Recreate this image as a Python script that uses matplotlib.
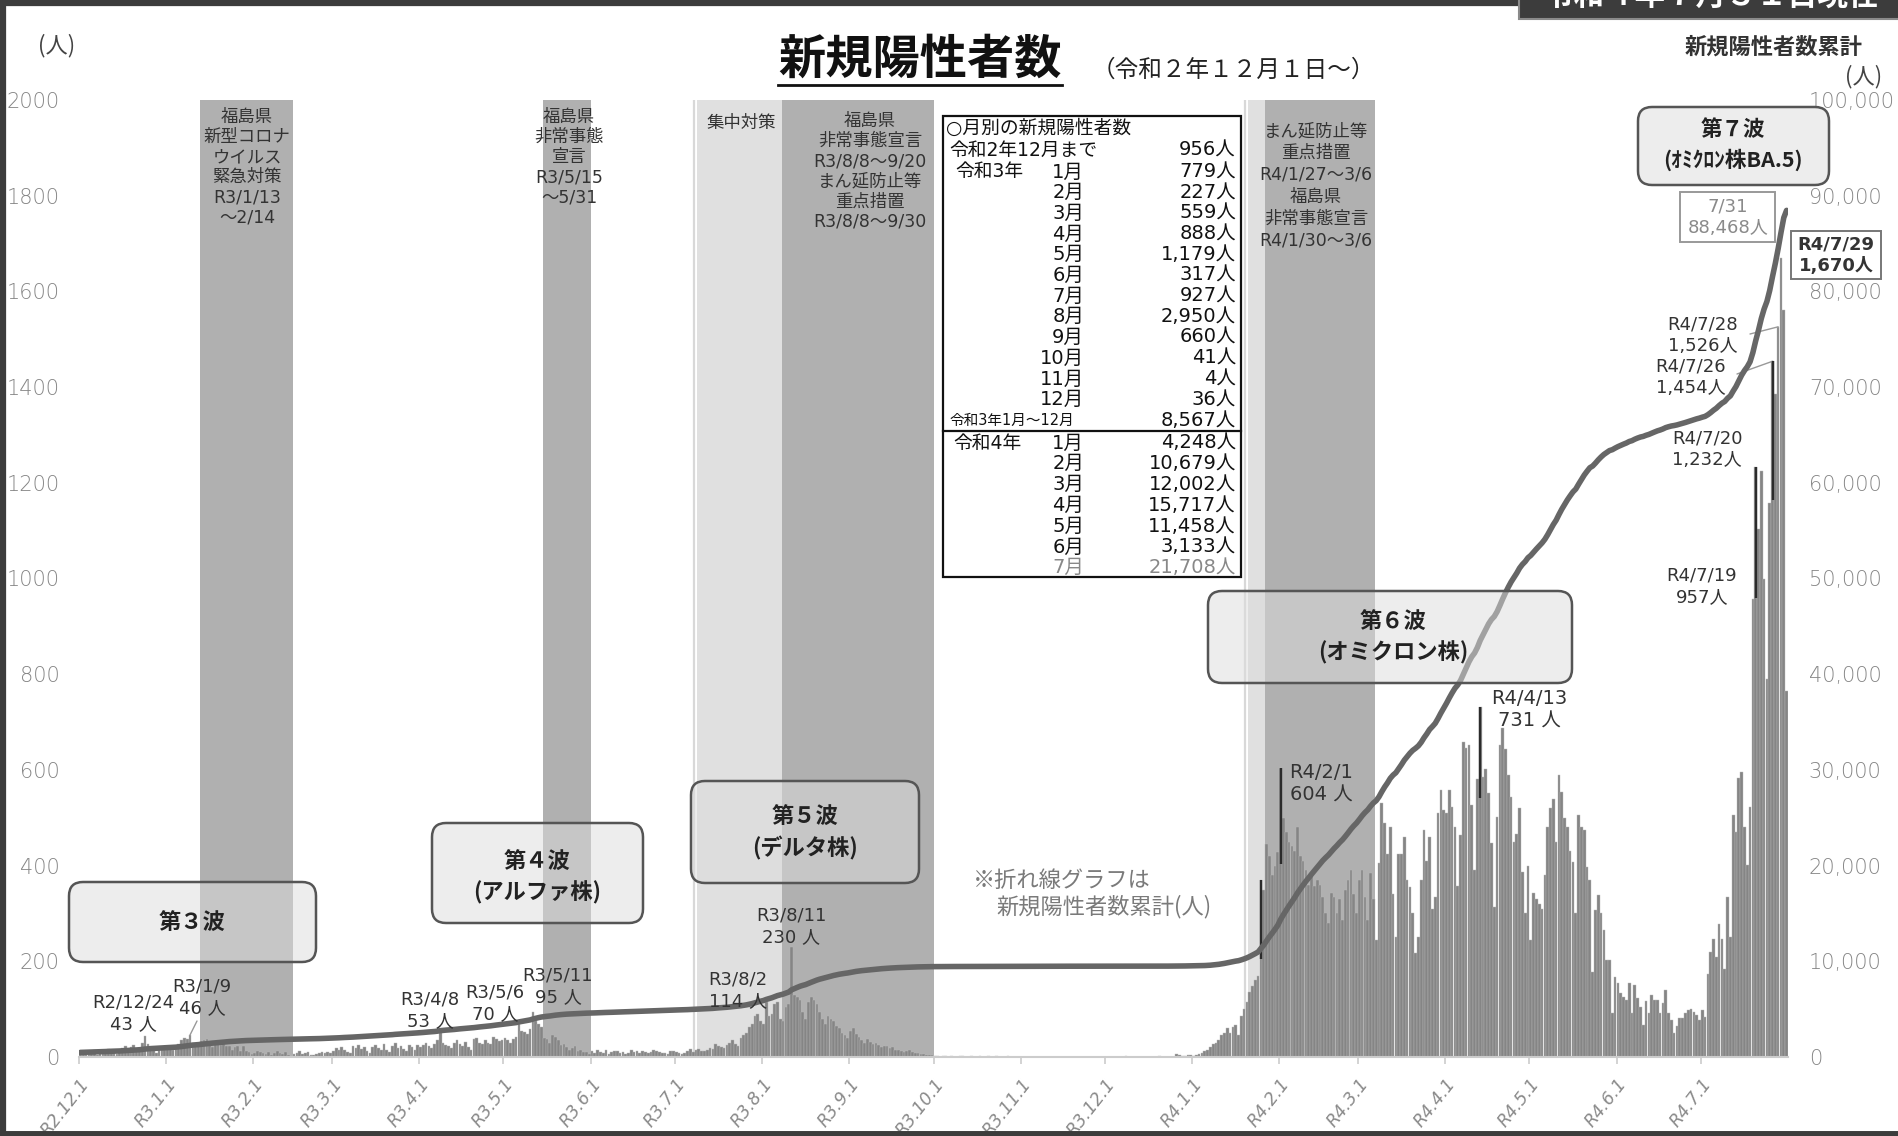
import datetime as dt
import numpy as np
import matplotlib
matplotlib.use("Agg")
import matplotlib.pyplot as plt
from matplotlib.patches import FancyBboxPatch, Rectangle
from matplotlib.lines import Line2D
from matplotlib.transforms import IdentityTransform

plt.rcParams['font.family'] = ['Noto Sans CJK JP', 'DejaVu Sans']
LAT = ['DejaVu Sans', 'Noto Sans CJK JP']

# ---------------- data: daily new positives ----------------
dec_2020 = [6, 9, 12, 8, 10, 14, 5, 11, 13, 9, 16, 12, 8, 7, 15, 18, 22, 14, 20, 25, 12, 17, 30, 43, 28, 19, 16, 9, 14, 18, 21]
jan_2021 = [18, 22, 15, 20, 28, 35, 40, 38, 46, 30, 22, 25, 33, 35, 38, 30, 20, 28, 32, 26, 30, 24, 22, 15, 20, 24, 13, 22, 12, 10, 6]
feb_2021 = [8, 12, 10, 9, 7, 11, 5, 9, 12, 8, 6, 10, 4, 3, 7, 9, 12, 6, 8, 10, 5, 4, 6, 9, 11, 8, 10, 8]
mar_2021 = [12, 18, 15, 20, 14, 10, 9, 22, 18, 25, 16, 20, 12, 8, 21, 25, 19, 15, 28, 14, 10, 24, 30, 18, 22, 16, 12, 26, 20, 15, 25]
apr_2021 = [20, 25, 30, 22, 18, 28, 35, 53, 30, 26, 22, 18, 30, 35, 28, 24, 32, 20, 15, 38, 40, 30, 28, 35, 30, 27, 42, 38, 33, 36]
may_2021 = [40, 35, 30, 38, 42, 70, 55, 52, 48, 58, 95, 75, 68, 62, 40, 38, 30, 45, 42, 35, 25, 28, 20, 15, 18, 22, 12, 14, 10, 10, 7]
jun_2021 = [12, 8, 14, 10, 9, 15, 6, 11, 13, 12, 8, 10, 7, 9, 14, 11, 12, 8, 13, 10, 9, 11, 15, 12, 10, 8, 9, 7, 12, 12]
jul_2021 = [10, 8, 7, 9, 12, 17, 10, 14, 17, 12, 12, 14, 19, 16, 28, 24, 20, 18, 26, 30, 35, 28, 24, 40, 45, 50, 62, 70, 85, 90, 75]
aug_2021 = [70, 114, 85, 90, 110, 115, 80, 75, 105, 110, 230, 130, 125, 120, 95, 80, 115, 125, 120, 111, 95, 80, 70, 85, 80, 75, 65, 60, 50, 45, 40]
sep_2021 = [55, 60, 49, 42, 35, 30, 38, 32, 28, 30, 25, 20, 24, 22, 18, 20, 15, 14, 12, 10, 12, 15, 10, 8, 9, 7, 6, 5, 4, 5]
oct_2021 = [3, 2, 1, 2, 3, 1, 2, 0, 1, 2, 3, 1, 0, 2, 1, 1, 3, 0, 1, 2, 1, 0, 2, 1, 1, 0, 2, 1, 1, 0, 1]
nov_2021 = [0, 0, 1, 0, 0, 0, 0, 0, 0, 1, 0, 0, 0, 0, 0, 0, 0, 1, 0, 0, 0, 0, 0, 0, 1, 0, 0, 0, 0, 0]
dec_2021 = [0, 1, 0, 0, 1, 0, 0, 2, 0, 0, 1, 0, 0, 1, 0, 0, 0, 1, 0, 2, 1, 0, 0, 1, 0, 6, 4, 3, 2, 5, 5]
jan_2022 = [3, 4, 6, 9, 12, 15, 20, 28, 30, 35, 45, 50, 60, 50, 62, 67, 45, 85, 100, 115, 135, 148, 160, 170, 370, 350, 446, 420, 380, 400, 428]
feb_2022 = [604, 500, 470, 450, 440, 430, 480, 420, 410, 390, 360, 380, 358, 370, 360, 335, 300, 279, 342, 335, 300, 330, 286, 350, 370, 390, 340, 300]
mar_2022 = [370, 390, 335, 286, 384, 330, 245, 405, 530, 488, 425, 480, 340, 250, 425, 425, 460, 370, 355, 300, 217, 251, 370, 474, 410, 460, 310, 334, 509, 558, 516]
apr_2022 = [509, 558, 523, 480, 358, 463, 659, 645, 652, 527, 391, 580, 731, 586, 602, 551, 447, 314, 502, 652, 687, 643, 589, 544, 450, 467, 520, 387, 300, 400]
may_2022 = [245, 342, 330, 320, 310, 380, 480, 520, 540, 450, 589, 554, 500, 480, 430, 408, 300, 505, 480, 474, 397, 370, 178, 307, 339, 300, 265, 203, 203, 91, 168]
jun_2022 = [154, 133, 126, 119, 154, 91, 150, 123, 105, 67, 116, 91, 130, 119, 119, 91, 112, 140, 91, 77, 50, 64, 81, 81, 91, 98, 100, 95, 88, 77]
jul_2022 = [98, 84, 174, 220, 246, 210, 278, 246, 184, 335, 250, 506, 470, 584, 595, 480, 402, 522, 957, 1232, 1104, 1224, 1000, 789, 1157, 1454, 1385, 1526, 1670, 1562, 764]

cases_before_dec_2020 = 475   # cumulative before R2/12/1

tick_labels = ['R2.12.1', 'R3.1.1', 'R3.2.1', 'R3.3.1', 'R3.4.1', 'R3.5.1', 'R3.6.1',
               'R3.7.1', 'R3.8.1', 'R3.9.1', 'R3.10.1', 'R3.11.1', 'R3.12.1', 'R4.1.1',
               'R4.2.1', 'R4.3.1', 'R4.4.1', 'R4.5.1', 'R4.6.1', 'R4.7.1']

table_header = '○月別の新規陽性者数'
r2_label = '令和2年12月まで'
r2_value = 956
r3_months = ['1月', '2月', '3月', '4月', '5月', '6月', '7月', '8月', '9月', '10月', '11月', '12月']
r3_values = [779, 227, 559, 888, 1179, 317, 927, 2950, 660, 41, 4, 36]
r4_months = ['1月', '2月', '3月', '4月', '5月', '6月', '7月']
r4_values = [4248, 10679, 12002, 15717, 11458, 3133, 21708]

# ---------------- derived ----------------
months = [dec_2020, jan_2021, feb_2021, mar_2021, apr_2021, may_2021, jun_2021, jul_2021,
          aug_2021, sep_2021, oct_2021, nov_2021, dec_2021, jan_2022, feb_2022, mar_2022,
          apr_2022, may_2022, jun_2022, jul_2022]
daily = np.concatenate([np.array(m, dtype=float) for m in months])
cumulative = cases_before_dec_2020 + np.cumsum(daily)
x = np.arange(len(daily))
START = dt.date(2020, 12, 1)


def di(y, m, d):
    return (dt.date(y, m, d) - START).days


month_starts = np.cumsum([0] + [len(m) for m in months[:-1]])

# ---------------- figure ----------------
W, H = 1898, 1136
fig = plt.figure(figsize=(W / 100, H / 100), dpi=100)
fig.patch.set_facecolor('white')
PX = IdentityTransform()


def T(px, py, s, **kw):
    return fig.text(px / W, 1 - py / H, s, **kw)


ax = fig.add_axes([79 / W, 1 - 1057 / H, 1709 / W, 957 / H])
ax2 = ax.twinx()

DARK = '#b0b0b0'
LIGHT = '#e0e0e0'
spans = [
    ((2021, 1, 13), (2021, 2, 14), DARK),
    ((2021, 5, 15), (2021, 5, 31), DARK),
    ((2021, 7, 9), (2021, 8, 7), LIGHT),
    ((2021, 8, 8), (2021, 9, 30), DARK),
    ((2022, 1, 21), (2022, 1, 26), LIGHT),
    ((2022, 1, 27), (2022, 3, 6), DARK),
]
for a, b, c in spans:
    ax.axvspan(di(*a) - 0.5, di(*b) + 0.5, color=c, lw=0, zorder=0)
ax.axvline(di(2021, 7, 7) + 0.2, color='#d8d8d8', lw=1.6, zorder=0)
ax.axvline(di(2022, 1, 19) + 0.3, color='#d8d8d8', lw=1.6, zorder=0)

ax.bar(x, daily, width=0.95, color='#858585', edgecolor='#b8b8b8', linewidth=0.3, zorder=2)

# highlighted bar tops
for (y_, m_, d_), drop in [((2022, 1, 25), 165), ((2022, 2, 1), 200), ((2022, 4, 13), 190),
                           ((2022, 7, 20), 272), ((2022, 7, 26), 290)]:
    i = di(y_, m_, d_)
    ax.vlines(i, daily[i] - drop, daily[i], color='#2b2b2b', lw=1.7, zorder=4)

ax2.plot(x, cumulative, color='#666666', lw=4.0, zorder=3, solid_joinstyle='round',
         solid_capstyle='round')

ax.set_xlim(-0.5, len(daily) - 0.5)
ax.set_ylim(0, 2000)
ax2.set_ylim(0, 100000)

ax.set_xticks(month_starts - 0.5)
ax.set_xticklabels(tick_labels, rotation=52, ha='right', va='top', rotation_mode='anchor',
                   fontsize=12.5, color='#8a8a8a', family='DejaVu Sans', style='oblique')
ax.tick_params(axis='x', length=5, color='#cccccc', width=1.2, pad=8)

ax.set_yticks(np.arange(0, 2001, 200))
ax.set_yticklabels([str(v) for v in range(0, 2001, 200)], family=LAT, fontsize=15,
                   color='#858585', fontweight='light')
ax.tick_params(axis='y', length=0, pad=14)
ax2.set_yticks(np.arange(0, 100001, 10000))
ax2.set_yticklabels([f'{v:,}' for v in range(0, 100001, 10000)], family=LAT, fontsize=15,
                    color='#858585', fontweight='light')
ax2.tick_params(axis='y', length=0, pad=15)

for s in ['top', 'left', 'right']:
    ax.spines[s].set_visible(False)
ax.spines['bottom'].set_color('#cccccc')
ax.spines['bottom'].set_linewidth(1.5)
for s in ax2.spines.values():
    s.set_visible(False)

# ---------------- frame and header ----------------
fig.add_artist(Line2D([3 / W, 3 / W], [0, 1], transform=fig.transFigure, color='#3c3c3c', lw=4.5))
fig.add_artist(Line2D([0, 1], [1 - 3 / H, 1 - 3 / H], transform=fig.transFigure, color='#3c3c3c', lw=4.5))
fig.add_artist(Line2D([0, 1], [2 / H, 2 / H], transform=fig.transFigure, color='#3c3c3c', lw=5))
fig.add_artist(Rectangle((1519, H - 19), 400, 40, transform=PX, fc='#3c3c3c', ec='#8a8a8a', lw=1.5, zorder=5))
T(1711, -4, '令和４年７月３１日現在', ha='center', va='center', fontsize=22, color='white',
  fontweight='bold', zorder=6)

T(920, 60, '新規陽性者数', ha='center', va='center', fontsize=34, fontweight='bold', color='#111')
fig.add_artist(Line2D([778 / W, 1062 / W], [1 - 85 / H, 1 - 85 / H], transform=fig.transFigure,
                      color='#111', lw=2))
T(1233, 70, '（令和２年１２月１日～）', ha='center', va='center', fontsize=17, color='#222')
T(57, 46, '(人)', ha='center', va='center', fontsize=16, color='#444')
T(1774, 47, '新規陽性者数累計', ha='center', va='center', fontsize=16, fontweight='bold', color='#333')
T(1864, 77, '(人)', ha='center', va='center', fontsize=16, color='#444')

# ---------------- shaded-region texts ----------------
rkw = dict(ha='center', va='top', fontsize=12.5, color='#333', family=LAT, linespacing=1.15,
           multialignment='center')
T(247, 108, '福島県\n新型コロナ\nウイルス\n緊急対策\nR3/1/13\n～2/14', **rkw)
T(569, 108, '福島県\n非常事態\n宣言\nR3/5/15\n～5/31', **rkw)
T(741, 123, '集中対策', ha='center', va='center', fontsize=12.5, color='#333')
T(870, 112, '福島県\n非常事態宣言\nR3/8/8～9/20\nまん延防止等\n重点措置\nR3/8/8～9/30', **rkw)
T(1316, 122, 'まん延防止等\n重点措置\nR4/1/27～3/6\n福島県\n非常事態宣言\nR4/1/30～3/6',
  **dict(rkw, linespacing=1.28))

# ---------------- monthly table ----------------
fig.add_artist(Rectangle((943, H - 577), 298, 461, transform=PX, fc='white', ec='#111', lw=1.6, zorder=4))
fig.add_artist(Line2D([943, 1241], [H - 431, H - 431], transform=PX, color='#111', lw=1.6, zorder=5))
tkw = dict(va='center', fontsize=14, color='#111', family=LAT, zorder=6)
T(946, 128, table_header, ha='left', **dict(tkw, fontsize=13.5))
T(949, 150, r2_label, ha='left', **dict(tkw, fontsize=13.5))
T(1236, 150, f'{r2_value:,}人', ha='right', **tkw)
T(955, 172, '令和3年', ha='left', **dict(tkw, fontsize=13.5))
for k, (mn, v) in enumerate(zip(r3_months, r3_values)):
    yy = 172 + k * 20.7
    T(1084, yy, mn, ha='right', **tkw)
    T(1236, yy, f'{v:,}人', ha='right', **tkw)
T(949, 420, '令和3年1月～12月', ha='left', **dict(tkw, fontsize=10.5))
T(1236, 420, f'{sum(r3_values):,}人', ha='right', **tkw)
T(953, 443, '令和4年', ha='left', **dict(tkw, fontsize=13.5))
for k, (mn, v) in enumerate(zip(r4_months, r4_values)):
    yy = 443 + k * 20.8
    col = '#888888' if k == len(r4_values) - 1 else '#111'
    T(1084, yy, mn, ha='right', **dict(tkw, color=col))
    T(1236, yy, f'{v:,}人', ha='right', **dict(tkw, color=col))

# ---------------- wave boxes ----------------
def wave_box(x0, y0, x1, y1, lines, ys, cx, fs=16):
    fig.add_artist(FancyBboxPatch((x0, H - y1), x1 - x0, y1 - y0,
                                  boxstyle='round,pad=0,rounding_size=14', transform=PX,
                                  fc='#dcdcdc', alpha=0.5, ec='none', zorder=7))
    fig.add_artist(FancyBboxPatch((x0, H - y1), x1 - x0, y1 - y0,
                                  boxstyle='round,pad=0,rounding_size=14', transform=PX,
                                  fc='none', ec='#555555', lw=1.8, zorder=7))
    for s, yy in zip(lines, ys):
        T(cx, yy, s, ha='center', va='center', fontsize=fs, fontweight='bold', color='#222', zorder=8)


wave_box(69, 882, 316, 962, ['第３波'], [923], 192)
wave_box(432, 823, 643, 923, ['第４波', '(アルファ株)'], [862, 893], 537)
wave_box(691, 781, 919, 883, ['第５波', '(デルタ株)'], [817, 848], 805)
wave_box(1208, 591, 1572, 683, ['第６波', '(オミクロン株)'], [622, 653], 1393)
wave_box(1638, 107, 1829, 185, ['第７波', '(ｵﾐｸﾛﾝ株BA.5)'], [130, 160], 1733, fs=15.5)

# ---------------- peak annotations ----------------
akw = dict(ha='center', va='center', fontsize=13, color='#333', family=LAT, linespacing=1.25)


def peak(y_, m_, d_, px, py, fmt='{:.0f} 人', **kw):
    v = daily[di(y_, m_, d_)]
    T(px, py, f'R{y_ - 2018}/{m_}/{d_}\n' + fmt.format(v), **dict(akw, **kw))


peak(2020, 12, 24, 133, 1013)
peak(2021, 1, 9, 202, 997)
peak(2021, 4, 8, 430, 1010)
peak(2021, 5, 6, 495, 1003)
peak(2021, 5, 11, 558, 986)
peak(2021, 8, 2, 738, 990)
peak(2021, 8, 11, 791, 926)
peak(2022, 2, 1, 1321, 784, fontsize=14)
peak(2022, 4, 13, 1529, 710, fontsize=14)
peak(2022, 7, 19, 1702, 586, fmt='{:,.0f}人')
peak(2022, 7, 20, 1707, 449, fmt='{:,.0f}人')
peak(2022, 7, 26, 1691, 377, fmt='{:,.0f}人')
peak(2022, 7, 28, 1703, 335, fmt='{:,.0f}人')

lkw = dict(arrowstyle='-', color='#999999', lw=1.0, shrinkA=0, shrinkB=0)
ax.annotate('', xy=(di(2021, 1, 9), daily[di(2021, 1, 9)]), xytext=(197, H - 1021),
            textcoords='figure pixels', arrowprops=lkw)
ax.annotate('', xy=(di(2022, 7, 26), daily[di(2022, 7, 26)]), xytext=(1737, H - 374),
            textcoords='figure pixels', arrowprops=lkw)
ax.annotate('', xy=(di(2022, 7, 28), daily[di(2022, 7, 28)]), xytext=(1750, H - 334),
            textcoords='figure pixels', arrowprops=lkw)

# boxed labels
i29 = di(2022, 7, 29)
fig.add_artist(Rectangle((1791, H - 279), 90, 48, transform=PX, fc='white', ec='#777', lw=1.4, zorder=7))
T(1836, 255, f'R4/7/29\n{daily[i29]:,.0f}人', ha='center', va='center', fontsize=13,
  fontweight='bold', color='#333', family=LAT, linespacing=1.25, zorder=8)
fig.add_artist(Rectangle((1680, H - 242), 95, 50, transform=PX, fc='white', ec='#999', lw=1.4, zorder=7))
T(1728, 217, f'7/31\n{cumulative[-1]:,.0f}人', ha='center', va='center', fontsize=13,
  color='#8a8a8a', family=LAT, linespacing=1.25, zorder=8)

# note
T(973, 880, '※折れ線グラフは', ha='left', va='center', fontsize=16, color='#7a7a7a')
T(996, 907, '新規陽性者数累計(人)', ha='left', va='center', fontsize=16, color='#7a7a7a')

fig.savefig('out.png', dpi=100, facecolor='white')
